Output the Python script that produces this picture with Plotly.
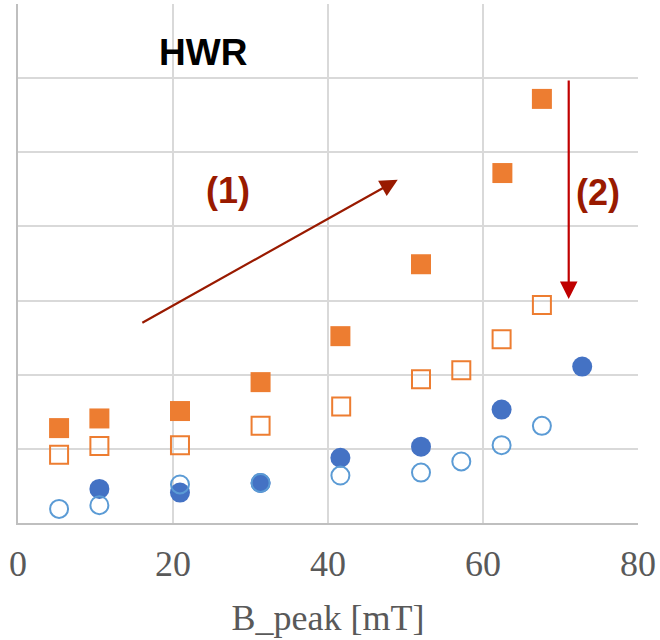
import plotly.graph_objects as go

# B_peak [mT] positions and measured values for each series
x_sq_fill = [5.3, 10.5, 20.9, 31.3, 41.6, 52.0, 62.5, 67.6]
y_sq_fill = [1.28, 1.41, 1.51, 1.90, 2.52, 3.49, 4.72, 5.72]

x_sq_open = [5.3, 10.5, 20.9, 31.3, 41.7, 52.0, 57.2, 62.4, 67.6]
y_sq_open = [0.92, 1.04, 1.05, 1.31, 1.57, 1.94, 2.06, 2.48, 2.94]

x_ci_fill = [10.5, 20.9, 31.3, 41.6, 52.0, 62.4, 72.8]
y_ci_fill = [0.46, 0.41, 0.54, 0.88, 1.03, 1.53, 2.11]

x_ci_open = [5.3, 10.5, 20.9, 31.3, 41.6, 52.0, 57.2, 62.4, 67.6]
y_ci_open = [0.19, 0.24, 0.52, 0.54, 0.64, 0.68, 0.83, 1.05, 1.31]

x_ticks = [0, 20, 40, 60, 80]

ORANGE = "#ED7D31"
BLUE = "#4472C4"
LIGHT_BLUE = "#5B9BD5"
DARK_RED = "#991A00"
RED = "#C00000"

fig = go.Figure()
fig.add_trace(go.Scatter(x=x_sq_fill, y=y_sq_fill, mode="markers",
                         marker=dict(symbol="square", size=20, color=ORANGE,
                                     line=dict(width=0))))
fig.add_trace(go.Scatter(x=x_sq_open, y=y_sq_open, mode="markers",
                         marker=dict(symbol="square-open", size=18, color=ORANGE,
                                     line=dict(width=2, color=ORANGE))))
fig.add_trace(go.Scatter(x=x_ci_fill, y=y_ci_fill, mode="markers",
                         marker=dict(symbol="circle", size=20, color=BLUE,
                                     line=dict(width=0))))
fig.add_trace(go.Scatter(x=x_ci_open, y=y_ci_open, mode="markers",
                         marker=dict(symbol="circle-open", size=18, color=LIGHT_BLUE,
                                     line=dict(width=2, color=LIGHT_BLUE))))

annotations = [
    dict(x=23.9, y=6.35, text="<b>HWR</b>", showarrow=False,
         font=dict(family="Liberation Sans, Arial", size=37, color="#000000")),
    dict(x=27.1, y=4.49, text="<b>(1)</b>", showarrow=False,
         font=dict(family="Liberation Sans, Arial", size=36, color=DARK_RED)),
    dict(x=74.9, y=4.46, text="<b>(2)</b>", showarrow=False,
         font=dict(family="Liberation Sans, Arial", size=36, color=DARK_RED)),
    # trend arrow (1)
    dict(x=49.0, y=4.63, ax=15.85, ay=2.69, xref="x", yref="y",
         axref="x", ayref="y", text="", showarrow=True,
         arrowhead=2, arrowsize=1.6, arrowwidth=2.2, arrowcolor=DARK_RED),
    # drop arrow (2)
    dict(x=71.06, y=3.02, ax=71.06, ay=5.99, xref="x", yref="y",
         axref="x", ayref="y", text="", showarrow=True,
         arrowhead=2, arrowsize=1.6, arrowwidth=2.2, arrowcolor=RED),
]

fig.update_layout(
    width=660, height=640,
    margin=dict(l=18, r=19, t=4, b=117),
    paper_bgcolor="white", plot_bgcolor="white",
    showlegend=False,
    annotations=annotations,
    xaxis=dict(range=[0, 80], tickvals=x_ticks, ticktext=[str(v) for v in x_ticks],
               showgrid=True, gridcolor="#D9D9D9", gridwidth=2,
               showline=True, linecolor="#BFBFBF", linewidth=2,
               zeroline=False, ticks="outside", ticklen=8,
               tickcolor="rgba(0,0,0,0)",
               tickfont=dict(family="Liberation Serif, Times New Roman", size=36,
                             color="#595959"),
               title=dict(text="B_peak [mT]", standoff=22,
                          font=dict(family="Liberation Serif, Times New Roman",
                                    size=36, color="#595959"))),
    yaxis=dict(range=[0, 7], dtick=1, showticklabels=False,
               showgrid=True, gridcolor="#D9D9D9", gridwidth=2,
               showline=True, linecolor="#BFBFBF", linewidth=2,
               zeroline=False, ticks=""),
)

fig.write_html("out.html")
